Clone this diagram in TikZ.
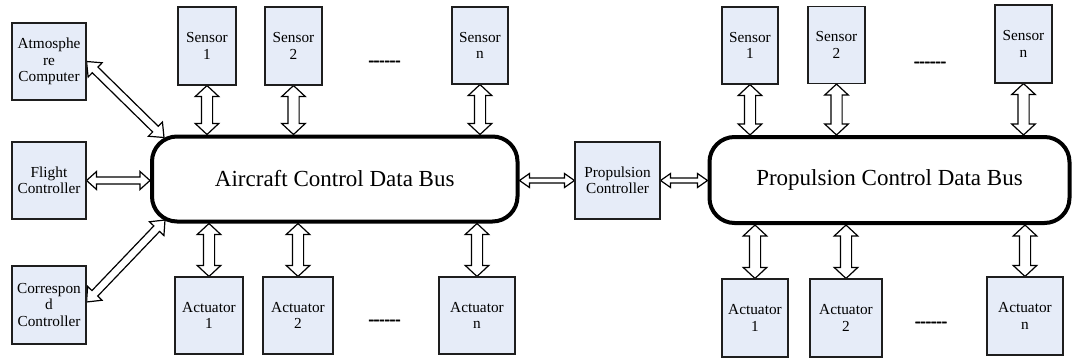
\documentclass[tikz,border=0pt]{standalone}
\usepackage{fontspec}
\setmainfont{Liberation Serif}
\newfontfamily\dashfont{Liberation Serif}[FakeBold=3]
\usetikzlibrary{calc,backgrounds}

\definecolor{boxfill}{RGB}{230,236,248}
\definecolor{edge}{RGB}{30,30,30}

% hollow two-headed arrow from #1 to #2:
% #3 half shaft width, #4 half head width, #5 head length
\newcommand\twoway[5]{%
  \coordinate (twA) at (#1);
  \coordinate (twB) at (#2);
  \coordinate (twP) at ($(twA)!#5!(twB)$);
  \coordinate (twQ) at ($(twB)!#5!(twA)$);
  \draw[hollow] (twA) -- ($(twP)!#4!90:(twB)$) -- ($(twP)!#3!90:(twB)$)
    -- ($(twQ)!#3!90:(twB)$) -- ($(twQ)!#4!90:(twB)$) -- (twB)
    -- ($(twQ)!#4!-90:(twB)$) -- ($(twQ)!#3!-90:(twB)$)
    -- ($(twP)!#3!-90:(twB)$) -- ($(twP)!#4!-90:(twB)$) -- cycle;
}
\newcommand\hyphens{-\kern0pt-\kern0pt-\kern0pt-\kern0pt-\kern0pt-}

\begin{document}
\begin{tikzpicture}[x=1pt,y=-1pt,
  wh/.style 2 args={minimum width=#1pt, minimum height=#2pt},
  box/.style={draw=edge, fill=boxfill, line width=1.1pt, inner sep=0pt,
    align=center, font=\fontsize{15.3}{16.5}\selectfont},
  bus/.style={draw=black, line width=4pt, rounded corners=25pt, inner sep=0pt,
    font=\fontsize{23}{26}\selectfont},
  hollow/.style={draw=black, fill=white, line width=1.2pt, line join=miter},
  gap/.style={font=\dashfont\fontsize{16}{16}\selectfont, anchor=base, inner sep=0pt}]
\useasboundingbox (0,0) rectangle (1072,359);

% aircraft side
\node[box, wh={74}{77}] (atm) at (49,61.5) {Atmosphe\\re\\Computer};
\node[box, wh={74}{77}] (flt) at (49,180.5) {Flight\\Controller};
\node[box, wh={74}{78}] (cor) at (49,305) {Correspon\\d\\Controller};
\node[box, wh={58}{78}] (as1) at (207,46) {Sensor\\1};
\node[box, wh={57}{78}] (as2) at (293.5,46) {Sensor\\2};
\node[box, wh={56}{77}] (asn) at (480,45.5) {Sensor\\n};
\node[box, wh={68}{77}] (aa1) at (209,315.5) {Actuator\\1};
\node[box, wh={70}{77}] (aa2) at (298,315.5) {Actuator\\2};
\node[box, wh={76}{77}] (aan) at (477,315.5) {Actuator\\n};
\node[bus, wh={365.5}{85}] (abus) at (334.75,179) {Aircraft Control Data Bus};

% propulsion side
\node[box, wh={85}{77}] (prop) at (617.5,180.5) {Propulsion\\Controller};
\node[box, wh={56}{77}] (ps1) at (750,45.5) {Sensor\\1};
\node[box, wh={57}{77}] (ps2) at (836.5,45) {Sensor\\2};
\node[box, wh={57}{78}] (psn) at (1023.5,44) {Sensor\\n};
\node[box, wh={66}{78}] (pa1) at (755,318) {Actuator\\1};
\node[box, wh={72}{78}] (pa2) at (846,318) {Actuator\\2};
\node[box, wh={76}{78}] (pan) at (1025,316) {Actuator\\n};
\node[bus, wh={360}{86}] (pbus) at (889.5,180) {Propulsion Control Data Bus};

% ellipses between the numbered units
\node[gap] (g1) at (384.5,65.3) {\hyphens};
\node[gap] (g2) at (384.5,324.3) {\hyphens};
\node[gap] (g3) at (930,66.3) {\hyphens};
\node[gap] (g4) at (931,326.3) {\hyphens};

\begin{scope}[on background layer]
  % links to the aircraft bus
  \twoway{atm.east}{$(abus.north west)+(14,3)$}{4pt}{10pt}{12pt}
  \twoway{flt.east}{flt.east -| abus.west}{3.5pt}{9pt}{10pt}
  \twoway{$(cor.east)+(0,-3)$}{$(abus.south west)+(15,-3.5)$}{4pt}{10pt}{12pt}
  \foreach \s in {as1,as2,asn}
    {\twoway{\s.south}{\s.south |- abus.north}{5.6pt}{11.8pt}{11pt}}
  \foreach \a in {aa1,aa2,aan}
    {\twoway{\a.north |- abus.south}{\a.north}{5.6pt}{11.8pt}{11pt}}
  % bridge through the propulsion controller
  \twoway{abus.east |- prop.west}{prop.west}{2.5pt}{7pt}{10pt}
  \twoway{prop.east}{prop.east -| pbus.west}{2.5pt}{7pt}{10pt}
  % links to the propulsion bus
  \foreach \s in {ps1,ps2,psn}
    {\twoway{\s.south}{\s.south |- pbus.north}{5.6pt}{11.8pt}{11pt}}
  \foreach \a in {pa1,pa2,pan}
    {\twoway{\a.north |- pbus.south}{\a.north}{5.6pt}{11.8pt}{11pt}}
\end{scope}
\end{tikzpicture}
\end{document}
